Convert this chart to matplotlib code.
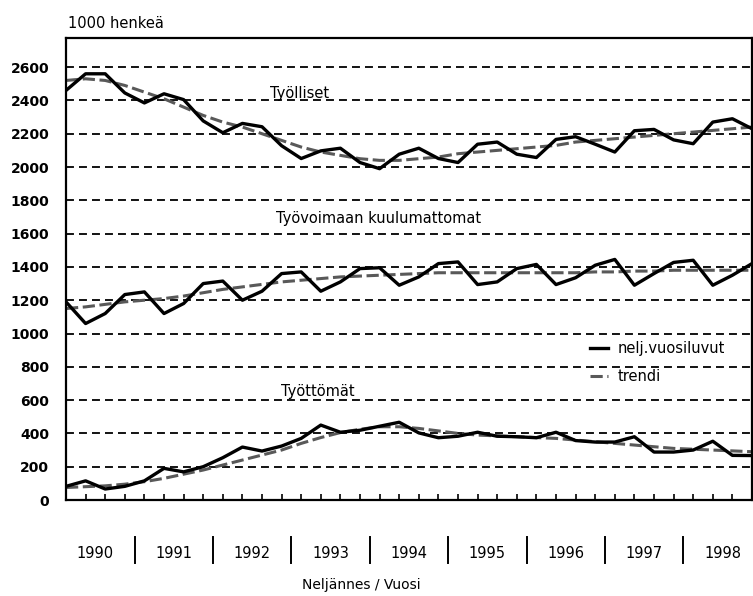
import numpy as np
import matplotlib.pyplot as plt
import matplotlib.transforms as mtransforms

plt.rcParams['font.family'] = ['DejaVu Sans']

years = list(range(1990, 1999))
quarters = np.arange(36)

tyolliset = [2460, 2560, 2560, 2445, 2385, 2440, 2405, 2277, 2206, 2262, 2242, 2128,
             2051, 2097, 2113, 2027, 1990, 2077, 2113, 2051, 2027, 2137, 2150, 2077,
             2057, 2166, 2182, 2137, 2090, 2218, 2226, 2163, 2140, 2270, 2290, 2230]
tyolliset_trendi = [2520, 2530, 2520, 2490, 2450, 2410, 2360, 2310, 2270, 2240, 2200, 2160,
                    2120, 2090, 2070, 2050, 2040, 2040, 2050, 2060, 2080, 2090, 2100, 2110,
                    2120, 2130, 2150, 2160, 2170, 2180, 2190, 2200, 2210, 2220, 2230, 2240]

kuulumattomat = [1190, 1060, 1120, 1234, 1250, 1120, 1180, 1300, 1315, 1200, 1254, 1360,
                 1370, 1254, 1310, 1390, 1395, 1290, 1340, 1420, 1430, 1294, 1310, 1390,
                 1415, 1294, 1335, 1410, 1445, 1290, 1360, 1427, 1440, 1290, 1350, 1420]
kuulumattomat_trendi = [1150, 1160, 1175, 1190, 1200, 1210, 1225, 1245, 1265, 1280, 1295, 1310,
                        1320, 1330, 1340, 1345, 1350, 1355, 1360, 1365, 1365, 1365, 1365, 1365,
                        1365, 1365, 1365, 1370, 1370, 1375, 1375, 1380, 1380, 1380, 1380, 1380]

tyottomat = [82, 115, 66, 82, 115, 190, 169, 200, 254, 318, 294, 324,
             370, 450, 407, 419, 443, 467, 403, 374, 383, 407, 383, 380,
             374, 407, 357, 348, 348, 380, 288, 288, 300, 353, 268, 267]
tyottomat_trendi = [75, 80, 85, 95, 110, 130, 155, 180, 210, 240, 270, 300,
                    340, 375, 405, 425, 440, 440, 430, 415, 400, 390, 385, 380,
                    375, 370, 360, 350, 340, 330, 320, 310, 305, 300, 295, 290]

fig = plt.figure(figsize=(7.53, 5.96), dpi=100)
ax = fig.add_axes([66 / 753, 96 / 596, 686 / 753, 462 / 596])

ax.set_xlim(0, 35)
ax.set_ylim(0, 2775)
ax.set_yticks(range(0, 2601, 200))
ax.tick_params(axis='y', length=0, pad=12, labelsize=10)
for lbl in ax.get_yticklabels():
    lbl.set_fontweight('bold')
ax.set_xticks(quarters[1:-1])
ax.tick_params(axis='x', direction='in', length=4, width=1.2, labelbottom=False)
ax.grid(axis='y', color='black', linestyle=(0, (4.4, 2.8)), linewidth=1.3)
ax.set_axisbelow(True)
for s in ax.spines.values():
    s.set_linewidth(1.6)

trend_style = dict(color='0.35', linewidth=2.2, linestyle=(0, (4, 1.5)))
ax.plot(quarters, tyolliset_trendi, **trend_style)
ax.plot(quarters, kuulumattomat_trendi, **trend_style)
ax.plot(quarters, tyottomat_trendi, **trend_style, label='trendi')
ax.plot(quarters, tyolliset, color='black', linewidth=2.4)
ax.plot(quarters, kuulumattomat, color='black', linewidth=2.4)
ax.plot(quarters, tyottomat, color='black', linewidth=2.4, label='nelj.vuosiluvut')

ax.text(11.94, 2412, 'Työlliset', ha='center', va='baseline', fontsize=10.5)
ax.text(15.97, 1662, 'Työvoimaan kuulumattomat', ha='center', va='baseline', fontsize=10.5)
ax.text(12.86, 625, 'Työttömät', ha='center', va='baseline', fontsize=10.5)

handles, labels = ax.get_legend_handles_labels()
ax.legend(handles[::-1], labels[::-1], loc='upper left', bbox_to_anchor=(0.764, 0.345),
          frameon=False, fontsize=10.5, handlelength=1.2, handletextpad=0.7,
          labelspacing=0.9, borderpad=0, borderaxespad=0)

trans = mtransforms.blended_transform_factory(ax.transData, ax.transAxes)
for k, yr in enumerate(years):
    ax.text(4 * k + 1.5, -0.115, str(yr), transform=trans, ha='center', va='center',
            fontsize=10.5)
    if k < len(years) - 1:
        ax.plot([4 * k + 3.5, 4 * k + 3.5], [-0.08, -0.136], transform=trans,
                color='black', linewidth=1.4, clip_on=False)

ax.text(15.05, -0.185, 'Neljännes / Vuosi', transform=trans, ha='center', va='center',
        fontsize=10)
fig.text(68 / 753, 1 - 23 / 596, '1000 henkeä', ha='left', va='center', fontsize=10.5)

fig.savefig('out.png', dpi=100)
